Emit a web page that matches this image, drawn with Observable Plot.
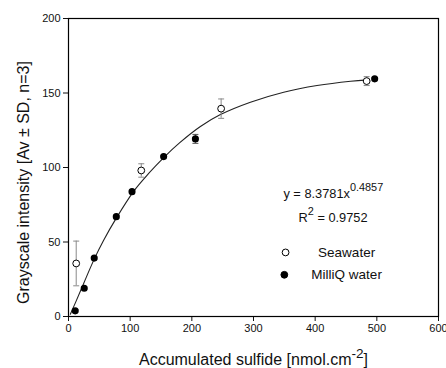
<!DOCTYPE html>
<html><head><meta charset="utf-8">
<script src="https://cdn.jsdelivr.net/npm/d3@7"></script>
<script src="https://cdn.jsdelivr.net/npm/@observablehq/plot@0.6"></script>
<style>body{margin:0;background:#fff} svg{overflow:visible}</style>
</head><body><div id="chart"></div>
<script>
// Data
const seaX = [12.5, 118, 247.5, 483.5];
const seaY = [35.6, 98, 139.5, 158];
const seaSD = [15, 4.5, 6.5, 3];
const milliX = [10.9, 25.5, 41.7, 77.5, 103, 154.3, 205.8, 496.5];
const milliY = [3.8, 19, 39.2, 67, 83.8, 107.3, 119.2, 159.5];
const milliSD = [0.8, 0.8, 0.8, 0.8, 0.8, 0.8, 3, 0.8];
const fitX = [3, 12, 24.4, 41.7, 56.8, 77.5, 105.6, 130, 154, 180, 213.9, 246.4, 295, 349, 403, 457.5, 484.6];
const fitY = [1.5, 10, 22, 38.5, 51, 66, 84, 96, 106.5, 116.5, 127.5, 135.5, 143.8, 150.5, 155, 157.9, 158.8];
const xTicks = [0, 100, 200, 300, 400, 500, 600];
const yTicks = [0, 50, 100, 150, 200];
const xLabel = "Accumulated sulfide [nmol.cm^{-2}]";
const yLabel = "Grayscale intensity [Av \u00B1 SD, n=3]";
const annoText = ["y = 8.3781x^{0.4857}", "R^{2} = 0.9752"];
const annoX = [348.5, 373];
const annoY = [82.3, 66];
const legendLabels = ["Seawater", "MilliQ water"];
const legendFill = ["white", "black"];
const legendDotX = [352, 350];
const legendY = [43, 28];
const legendTextX = [451, 451];

const sea = seaX.map((x, i) => ({x, y: seaY[i], sd: seaSD[i]}));
const milli = milliX.map((x, i) => ({x, y: milliY[i], sd: milliSD[i]}));
const fit = fitX.map((x, i) => ({x, y: fitY[i]}));
const anno = annoText.map((t, i) => ({t, x: annoX[i], y: annoY[i]}));
const legend = legendLabels.map((t, i) => ({t, fill: legendFill[i], dx: legendDotX[i], tx: legendTextX[i], y: legendY[i]}));

const capSymbol = {draw(ctx, size) { const r = Math.sqrt(size / Math.PI); ctx.moveTo(-r, 0); ctx.lineTo(r, 0); }};
const bars = (data, color) => [
  Plot.ruleX(data, {x: "x", y1: d => d.y - d.sd, y2: d => d.y + d.sd, stroke: color, strokeWidth: 1}),
  Plot.dot(data, {x: "x", y: d => d.y + d.sd, symbol: capSymbol, r: 3, stroke: color, strokeWidth: 1}),
  Plot.dot(data, {x: "x", y: d => d.y - d.sd, symbol: capSymbol, r: 3, stroke: color, strokeWidth: 1})
];

const chart = Plot.plot({
  width: 446, height: 368,
  marginLeft: 68, marginRight: 8, marginTop: 18, marginBottom: 52,
  style: {fontFamily: "'Liberation Sans', Arial, sans-serif", background: "white", color: "#111"},
  x: {domain: [0, 600]},
  y: {domain: [0, 200]},
  marks: [
    Plot.axisX({ticks: xTicks, label: null, tickSize: 5, tickPadding: 3, fontSize: 11}),
    Plot.axisY({ticks: yTicks, label: null, tickSize: 5, tickPadding: 3, fontSize: 11}),
    Plot.frame({stroke: "black", strokeWidth: 1.2}),
    Plot.line(fit, {x: "x", y: "y", curve: "catmull-rom", stroke: "#222", strokeWidth: 1.1}),
    ...bars(sea, "#8a8a8a"),
    ...bars(milli, "#555"),
    Plot.dot(milli, {x: "x", y: "y", r: 2.8, fill: "black", stroke: "black"}),
    Plot.dot(sea, {x: "x", y: "y", r: 3.4, fill: "white", stroke: "black", strokeWidth: 1}),
    Plot.text(anno, {x: "x", y: "y", text: "t", textAnchor: "start", fontSize: 12.8, fill: "#111"}),
    Plot.dot(legend, {x: "dx", y: "y", r: 3.4, fill: "fill", stroke: "black", strokeWidth: 1}),
    Plot.text(legend, {x: "tx", y: "y", text: "t", textAnchor: "middle", fontSize: 13.5, fill: "#111"}),
    Plot.text([xLabel], {frameAnchor: "bottom", textAnchor: "middle", lineAnchor: "middle", dy: 43, fontSize: 16, fill: "#111"}),
    Plot.text([yLabel], {frameAnchor: "left", textAnchor: "middle", lineAnchor: "middle", dx: -45, dy: 15, rotate: -90, fontSize: 16, fill: "#111"})
  ]
});
document.getElementById("chart").appendChild(chart);
chart.querySelectorAll("text").forEach(el => {
  const s = el.textContent;
  if (s.includes("^{")) {
    el.textContent = "";
    const parts = s.split(/\^\{([^}]*)\}/);
    parts.forEach((p, i) => {
      if (!p) return;
      const ts = document.createElementNS("http://www.w3.org/2000/svg", "tspan");
      ts.textContent = p;
      if (i % 2 === 1) {
        ts.setAttribute("dy", "-7");
        ts.setAttribute("font-size", "0.85em");
      } else if (i > 0) {
        ts.setAttribute("dy", "7");
      }
      el.appendChild(ts);
    });
  }
});
</script></body></html>
